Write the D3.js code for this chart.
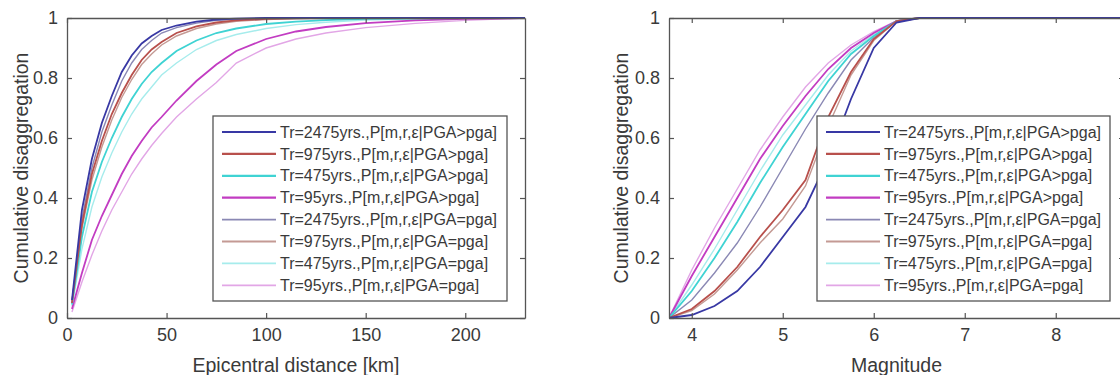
<!DOCTYPE html>
<html><head><meta charset="utf-8">
<script src="https://cdn.jsdelivr.net/npm/d3@7"></script>
<style>body{margin:0;background:#fff}svg{display:block}text{font-family:"Liberation Sans",Arial,sans-serif;fill:#3a3a3a}</style>
</head><body><svg id="c" width="1120" height="375"></svg>
<script>
const seriesLabels = [
  "Tr=2475yrs.,P[m,r,ε|PGA>pga]","Tr=975yrs.,P[m,r,ε|PGA>pga]","Tr=475yrs.,P[m,r,ε|PGA>pga]","Tr=95yrs.,P[m,r,ε|PGA>pga]",
  "Tr=2475yrs.,P[m,r,ε|PGA=pga]","Tr=975yrs.,P[m,r,ε|PGA=pga]","Tr=475yrs.,P[m,r,ε|PGA=pga]","Tr=95yrs.,P[m,r,ε|PGA=pga]"];
const seriesColors = ["#3838a4","#b8504c","#3fd3d3","#c23cc2","#8a88b4","#c49a94","#a6ecec","#e2a6e6"];
const seriesWidths = [1.8,1.8,1.8,1.8,1.4,1.4,1.4,1.4];

// Left panel: epicentral distance [km]
const distance = [2.5,7.5,12.5,17.5,22.5,27.5,32.5,37.5,42.5,47.5,55,65,75,85,100,115,130,150,175,200,230];
const distTr2475gt = [0.06,0.36,0.53,0.65,0.74,0.82,0.875,0.915,0.94,0.96,0.975,0.988,0.995,0.998,1,1,1,1,1,1,1];
const distTr975gt  = [0.05,0.31,0.48,0.59,0.68,0.75,0.81,0.86,0.895,0.92,0.95,0.972,0.985,0.992,0.997,0.999,1,1,1,1,1];
const distTr475gt  = [0.045,0.27,0.42,0.52,0.60,0.67,0.73,0.78,0.82,0.85,0.89,0.925,0.95,0.965,0.98,0.988,0.993,0.997,0.999,1,1];
const distTr95gt   = [0.03,0.15,0.26,0.34,0.41,0.48,0.54,0.59,0.635,0.67,0.725,0.79,0.845,0.89,0.93,0.955,0.97,0.983,0.992,0.997,1];
const distTr2475eq = [0.055,0.33,0.50,0.62,0.71,0.79,0.85,0.895,0.925,0.95,0.968,0.983,0.992,0.996,0.999,1,1,1,1,1,1];
const distTr975eq  = [0.05,0.30,0.46,0.57,0.66,0.735,0.795,0.845,0.88,0.91,0.94,0.965,0.98,0.989,0.995,0.998,1,1,1,1,1];
const distTr475eq  = [0.04,0.23,0.37,0.47,0.55,0.62,0.68,0.73,0.77,0.81,0.85,0.895,0.925,0.945,0.965,0.978,0.986,0.993,0.997,0.999,1];
const distTr95eq   = [0.02,0.12,0.21,0.29,0.36,0.42,0.48,0.53,0.575,0.615,0.67,0.73,0.785,0.85,0.90,0.93,0.95,0.968,0.982,0.992,1];

// Right panel: magnitude
const magnitude = [3.75,4,4.25,4.5,4.75,5,5.25,5.5,5.75,6,6.25,6.5,7,8,8.75];
const magTr2475gt = [0,0.01,0.04,0.09,0.17,0.27,0.37,0.53,0.73,0.90,0.985,1,1,1,1];
const magTr975gt  = [0,0.03,0.09,0.17,0.27,0.36,0.46,0.67,0.82,0.93,0.99,1,1,1,1];
const magTr475gt  = [0,0.09,0.20,0.32,0.45,0.57,0.68,0.79,0.88,0.94,0.99,1,1,1,1];
const magTr95gt   = [0,0.14,0.27,0.40,0.53,0.64,0.74,0.83,0.90,0.95,0.99,1,1,1,1];
const magTr2475eq = [0,0.06,0.15,0.25,0.37,0.50,0.63,0.75,0.86,0.935,0.99,1,1,1,1];
const magTr975eq  = [0,0.025,0.08,0.16,0.25,0.33,0.44,0.64,0.81,0.925,0.99,1,1,1,1];
const magTr475eq  = [0,0.11,0.23,0.36,0.49,0.61,0.71,0.81,0.89,0.945,0.99,1,1,1,1];
const magTr95eq   = [0,0.16,0.30,0.43,0.56,0.67,0.77,0.85,0.91,0.955,0.99,1,1,1,1];

const yTicks = [0,0.2,0.4,0.6,0.8,1];
const distTicks = [0,50,100,150,200];
const magTicks = [4,5,6,7,8];

const distSeries = [distTr2475gt,distTr975gt,distTr475gt,distTr95gt,distTr2475eq,distTr975eq,distTr475eq,distTr95eq];
const magSeries = [magTr2475gt,magTr975gt,magTr475gt,magTr95gt,magTr2475eq,magTr975eq,magTr475eq,magTr95eq];

const svg = d3.select("#c");
const axisColor = "#555";

function panel(cfg){
  const g = svg.append("g");
  const x = d3.scaleLinear().domain(cfg.xDomain).range([cfg.left, cfg.right]);
  const y = d3.scaleLinear().domain([0,1]).range([cfg.bottom, cfg.top]);
  const clipId = "clip"+cfg.id;
  svg.append("clipPath").attr("id",clipId).append("rect")
     .attr("x",cfg.left).attr("y",cfg.top-2).attr("width",cfg.right-cfg.left).attr("height",cfg.bottom-cfg.top+4);
  const line = d3.line().x(d=>x(d[0])).y(d=>y(d[1]));
  const order = [7,6,5,4,3,2,1,0];
  order.forEach(i=>{
    g.append("path").attr("clip-path",`url(#${clipId})`)
     .attr("d", line(cfg.xs.map((v,j)=>[v,cfg.series[i][j]])))
     .attr("fill","none").attr("stroke",seriesColors[i]).attr("stroke-width",seriesWidths[i]);
  });
  const axB = d3.axisBottom(x).tickValues(cfg.xTicks).tickSizeInner(-5).tickSizeOuter(0).tickPadding(10).tickFormat(d3.format("d"));
  const axT = d3.axisTop(x).tickValues(cfg.xTicks).tickSizeInner(-5).tickSizeOuter(0).tickFormat("");
  const axL = d3.axisLeft(y).tickValues(yTicks).tickSizeInner(-5).tickSizeOuter(0).tickPadding(9).tickFormat(d=>d===0||d===1?String(d):d3.format(".1f")(d));
  const axR = d3.axisRight(y).tickValues(yTicks).tickSizeInner(-5).tickSizeOuter(0).tickFormat("");
  const styleAx = s=>{s.selectAll(".domain").attr("stroke",axisColor).attr("stroke-width",1.3);
    s.selectAll(".tick line").attr("stroke",axisColor).attr("stroke-width",1.2);
    s.selectAll("text").attr("font-size",18).attr("fill","#3a3a3a").attr("font-family","Liberation Sans, Arial, sans-serif");};
  g.append("g").attr("transform",`translate(0,${cfg.bottom})`).call(axB).call(styleAx);
  g.append("g").attr("transform",`translate(0,${cfg.top})`).call(axT).call(styleAx);
  g.append("g").attr("transform",`translate(${cfg.left},0)`).call(axL).call(styleAx);
  g.append("g").attr("transform",`translate(${cfg.right},0)`).call(axR).call(styleAx);
  g.append("text").attr("x",(cfg.left+cfg.labelRight)/2).attr("y",372).attr("text-anchor","middle")
   .attr("font-size",19.5).text(cfg.xLabel);
  g.append("text").attr("transform",`translate(${cfg.yLabelX},${(cfg.top+cfg.bottom)/2}) rotate(-90)`)
   .attr("text-anchor","middle").attr("font-size",19.5).text("Cumulative disaggregation");
  const lg = g.append("g");
  lg.append("rect").attr("x",cfg.legX).attr("y",116).attr("width",cfg.legW).attr("height",185)
    .attr("fill","#fff").attr("stroke",axisColor).attr("stroke-width",1.3);
  seriesLabels.forEach((lab,i)=>{
    const yy = 132 + i*21.9;
    lg.append("line").attr("x1",cfg.legX+9).attr("x2",cfg.legX+63).attr("y1",yy).attr("y2",yy)
      .attr("stroke",seriesColors[i]).attr("stroke-width",seriesWidths[i]+0.4);
    lg.append("text").attr("x",cfg.legX+67).attr("y",yy).attr("dy","0.35em").attr("font-size",16).text(lab);
  });
}

panel({id:"L", left:67, right:525, labelRight:525, top:18, bottom:318, xDomain:[0,230], xs:distance, series:distSeries,
  xTicks:distTicks, xLabel:"Epicentral distance [km]", yLabelX:28, legX:213, legW:294});
panel({id:"R", left:669, right:1124, labelRight:1124, top:18, bottom:318, xDomain:[3.75,8.75], xs:magnitude, series:magSeries,
  xTicks:magTicks, xLabel:"Magnitude", yLabelX:628, legX:817, legW:293});
</script></body></html>
